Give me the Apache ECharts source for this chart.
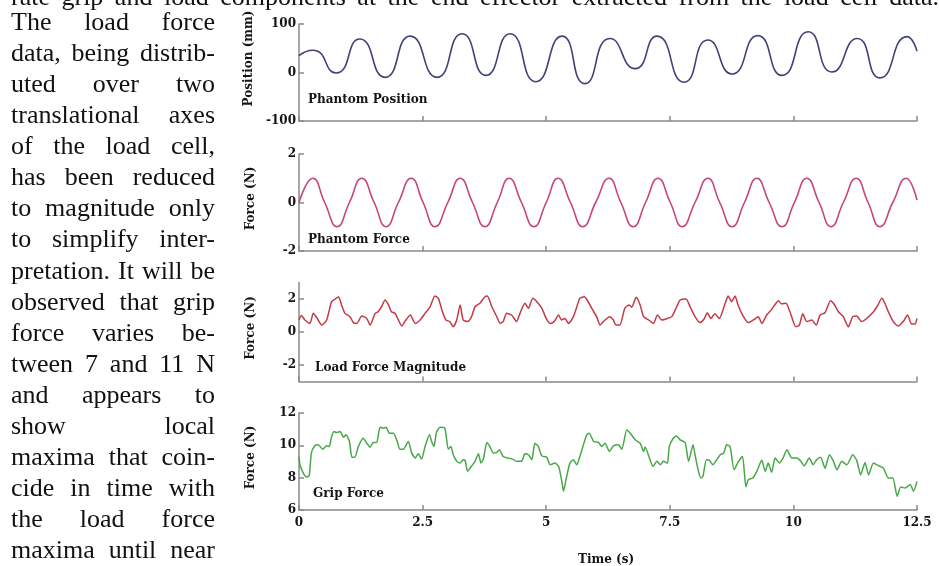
<!DOCTYPE html>
<html>
<head>
<meta charset="utf-8">
<script src="https://cdn.jsdelivr.net/npm/echarts@6/dist/echarts.min.js"></script>
<style>
  html, body { margin: 0; padding: 0; background: #fff; overflow: hidden; }
  #chart { position: absolute; left: 0; top: 0; width: 939px; height: 566px; }
  .txt {
    position: absolute; left: 11px; width: 204px;
    font-family: "Liberation Serif", "DejaVu Serif", serif;
    font-size: 26px; line-height: 31.1px; color: #111;
    text-align: justify; text-align-last: justify; white-space: nowrap;
  }
  #topline { position: absolute; left: 11px; top: -19px; width: 928px;
    font-family: "Liberation Serif", serif; font-size: 26px; line-height: 31.1px;
    color: #111; text-align: justify; text-align-last: justify; white-space: nowrap; }
</style>
</head>
<body>
<div id="chart"></div>
<div id="topline">rate grip and load components at the end effector extracted from the load cell data.</div>
<div id="para"></div>
<script>
// text column beside the figure
const paraLines = [
  'The load force', 'data, being distrib-', 'uted over two', 'translational axes',
  'of the load cell,', 'has been reduced', 'to magnitude only', 'to simplify inter-',
  'pretation. It will be', 'observed that grip', 'force varies be-', 'tween 7 and 11 N',
  'and appears to', 'show local', 'maxima that coin-', 'cide in time with',
  'the load force', 'maxima until near'
]

// Phantom Position (mm), extrema
const posT = [0, 0.28, 0.75, 1.23, 1.74, 2.25, 2.79, 3.30, 3.78, 4.27, 4.79, 5.32, 5.78,
  6.29, 6.80, 7.24, 7.79, 8.27, 8.76, 9.28, 9.77, 10.30, 10.78, 11.29, 11.75, 12.30, 12.5]
const posV = [35, 46, -1, 69, -10, 75, -10, 80, -6, 80, -19, 75, -23,
  70, 8, 75, -20, 67, -3, 76, -6, 84, 1, 70, -11, 74, 44]

// Phantom Force (N)
const pfT = [0, 0.28, 0.52, 0.77, 1.02, 1.27, 1.52, 1.76, 2.01, 2.27, 2.51, 2.75, 3.01,
  3.26, 3.51, 3.76, 4.01, 4.25, 4.50, 4.75, 5.00, 5.24, 5.49, 5.74, 6.00, 6.27, 6.51,
  6.76, 7.01, 7.26, 7.51, 7.75, 8.01, 8.27, 8.51, 8.76, 9.01, 9.26, 9.51, 9.77, 10.02,
  10.27, 10.52, 10.76, 11.01, 11.27, 11.51, 11.75, 12.01, 12.28, 12.5]
const pfV = [0, 1, 0, -1, 0, 1, 0, -1, 0, 1, 0, -1, 0,
  1, 0, -1, 0, 1, 0, -1, 0, 1, 0, -1, 0, 1, 0,
  -1, 0, 1, 0, -1, 0, 1, 0, -1, 0, 1, 0, -1, 0,
  1, 0, -1, 0, 1, 0, -1, 0, 1, 0.1]

// Load Force Magnitude (N)
const lfT = [0, 0.05, 0.12, 0.22, 0.29, 0.37, 0.46, 0.56, 0.66, 0.75, 0.80, 0.86, 0.93,
  1.03, 1.10, 1.17, 1.27, 1.37, 1.44, 1.54, 1.60, 1.67, 1.74, 1.81, 1.87, 1.94, 2.01,
  2.08, 2.14, 2.25, 2.35, 2.45, 2.55, 2.65, 2.75, 2.82, 2.89, 2.97, 3.05, 3.12, 3.19,
  3.26, 3.32, 3.41, 3.49, 3.56, 3.66, 3.76, 3.81, 3.90, 4.00, 4.07, 4.13, 4.20, 4.30,
  4.40, 4.47, 4.57, 4.64, 4.73, 4.81, 4.91, 5.00, 5.08, 5.16, 5.25, 5.31, 5.38, 5.45,
  5.55, 5.62, 5.68, 5.77, 5.83, 5.92, 6.02, 6.09, 6.17, 6.28, 6.36, 6.41, 6.49, 6.59,
  6.68, 6.73, 6.82, 6.90, 6.97, 7.07, 7.17, 7.25, 7.34, 7.45, 7.54, 7.64, 7.71, 7.83,
  7.91, 8.01, 8.11, 8.19, 8.26, 8.33, 8.41, 8.50, 8.62, 8.68, 8.75, 8.82, 8.88, 8.99,
  9.09, 9.19, 9.29, 9.36, 9.46, 9.56, 9.70, 9.76, 9.85, 9.93, 10.05, 10.12, 10.19,
  10.27, 10.37, 10.46, 10.54, 10.64, 10.75, 10.82, 10.91, 11.01, 11.11, 11.20, 11.28,
  11.38, 11.48, 11.62, 11.69, 11.79, 11.85, 11.92, 12.02, 12.12, 12.22, 12.31, 12.39,
  12.46, 12.5]
const lfV = [0.73, 1.00, 0.73, 0.52, 1.13, 0.82, 0.42, 0.73, 1.84, 2.04, 2.14, 1.64, 1.13,
  0.93, 0.57, 0.52, 0.97, 0.82, 0.42, 1.13, 1.23, 1.53, 1.94, 1.64, 1.23, 1.13, 0.73,
  0.36, 0.63, 1.03, 0.52, 0.73, 1.13, 1.53, 2.18, 2.04, 1.33, 0.73, 0.63, 0.32, 0.73,
  1.64, 0.73, 0.63, 0.93, 1.53, 1.74, 2.14, 2.18, 1.53, 0.93, 0.52, 0.63, 1.13, 1.03,
  0.63, 1.13, 1.74, 1.44, 2.04, 1.84, 1.44, 0.82, 0.52, 0.63, 1.03, 0.73, 0.82, 0.52,
  0.93, 1.53, 2.04, 2.14, 1.94, 1.44, 0.93, 0.42, 0.67, 0.93, 0.73, 0.42, 0.42, 1.44,
  1.64, 1.50, 2.10, 1.64, 0.93, 0.73, 0.52, 1.03, 0.73, 0.82, 0.93, 1.53, 1.94, 2.00,
  1.53, 0.93, 0.57, 0.77, 1.17, 0.82, 1.10, 0.82, 1.74, 2.18, 1.84, 2.18, 1.64, 0.93,
  0.57, 0.73, 0.93, 0.52, 1.03, 1.37, 1.90, 1.70, 1.74, 1.23, 0.32, 0.42, 1.10,
  0.63, 0.73, 0.42, 1.03, 1.17, 1.90, 1.70, 1.23, 0.93, 0.32, 0.93, 0.97,
  0.63, 0.82, 1.23, 1.53, 2.04, 1.74, 1.23, 0.63, 0.36, 0.63, 1.03, 0.48,
  0.48, 0.82]

// Grip Force (N)
const gfT = [0, 0.02, 0.07, 0.12, 0.17, 0.21, 0.25, 0.32, 0.39, 0.48, 0.56, 0.61, 0.66,
  0.71, 0.76, 0.83, 0.90, 0.95, 1.02, 1.07, 1.13, 1.20, 1.30, 1.37, 1.44, 1.50, 1.57,
  1.64, 1.71, 1.76, 1.83, 1.91, 1.98, 2.04, 2.11, 2.21, 2.28, 2.35, 2.41, 2.48, 2.55,
  2.64, 2.69, 2.73, 2.78, 2.85, 2.95, 3.02, 3.07, 3.12, 3.19, 3.26, 3.32, 3.36, 3.41,
  3.46, 3.56, 3.63, 3.68, 3.73, 3.80, 3.86, 3.93, 4.00, 4.05, 4.13, 4.23, 4.32, 4.40,
  4.50, 4.57, 4.64, 4.71, 4.77, 4.84, 4.91, 5.01, 5.08, 5.18, 5.25, 5.31, 5.35, 5.40,
  5.48, 5.55, 5.62, 5.68, 5.82, 5.87, 5.96, 6.06, 6.12, 6.19, 6.28, 6.36, 6.46, 6.53,
  6.63, 6.70, 6.80, 6.90, 6.97, 7.00, 7.10, 7.16, 7.24, 7.31, 7.37, 7.45, 7.49, 7.57,
  7.64, 7.71, 7.81, 7.88, 7.97, 8.01, 8.08, 8.13, 8.17, 8.24, 8.30, 8.37, 8.45, 8.52,
  8.59, 8.65, 8.72, 8.80, 8.89, 8.97, 9.04, 9.09, 9.18, 9.26, 9.36, 9.43, 9.49, 9.56,
  9.63, 9.72, 9.79, 9.87, 9.97, 10.07, 10.15, 10.22, 10.32, 10.40, 10.47, 10.55, 10.64,
  10.73, 10.81, 10.88, 10.98, 11.08, 11.20, 11.28, 11.36, 11.45, 11.52, 11.62, 11.72,
  11.82, 11.92, 12.01, 12.10, 12.17, 12.26, 12.36, 12.43, 12.5]
const gfV = [9.31, 8.80, 8.39, 8.12, 8.04, 8.18, 9.52, 9.97, 10.03, 9.76, 9.97, 9.93, 10.54,
  10.85, 10.79, 10.85, 10.50, 10.65, 10.24, 9.27, 9.27, 9.93, 10.44, 10.13, 9.89, 10.17, 10.17,
  11.12, 11.06, 11.12, 10.75, 10.75, 10.30, 9.76, 9.76, 10.24, 9.52, 9.21, 9.48, 9.15, 9.93,
  10.65, 10.17, 9.93, 10.79, 11.12, 11.06, 9.76, 9.93, 9.42, 9.01, 8.90, 9.11, 9.07, 8.39,
  8.59, 9.01, 9.48, 8.90, 9.15, 10.17, 9.93, 9.52, 9.56, 9.72, 9.31, 9.21, 9.15, 9.01,
  9.01, 9.48, 9.42, 9.11, 10.13, 9.93, 9.35, 9.27, 8.80, 8.90, 8.70, 7.88, 7.16, 7.88,
  8.90, 9.11, 8.80, 9.31, 10.65, 10.75, 10.24, 10.17, 9.93, 10.13, 9.62, 9.97, 10.03, 9.76,
  10.95, 10.75, 10.34, 10.13, 9.62, 9.89, 9.11, 8.70, 9.01, 8.80, 9.01, 8.90, 9.93, 10.44,
  10.58, 10.34, 10.17, 9.01, 10.03, 9.42, 8.39, 7.98, 8.08, 9.11, 9.07, 8.80, 9.11, 9.42,
  9.52, 10.03, 9.93, 8.49, 9.01, 9.31, 7.43, 7.88, 7.98, 8.39, 9.07, 8.39, 8.90, 8.33,
  9.21, 8.90, 9.21, 9.72, 9.21, 9.21, 9.01, 8.74, 9.21, 8.80, 9.11, 9.27, 8.59,
  9.42, 9.01, 8.49, 9.01, 8.80, 9.42, 9.07, 8.18, 8.94, 8.18, 8.90, 8.74,
  8.59, 7.98, 7.98, 6.85, 7.43, 7.36, 7.57, 7.16, 7.77]

const xTicks = { min: 0, max: 12.5, interval: 2.5 }
const labelFont = { fontFamily: 'DejaVu Serif', fontWeight: 'bold', fontSize: 12, color: '#151515' }

const para = document.getElementById('para')
paraLines.forEach(function (line, i) {
  let d = document.createElement('div')
  d.className = 'txt'
  d.style.top = (5.7 + i * 31.1) + 'px'
  d.textContent = line
  para.appendChild(d)
})

function pairs (ts, vs) {
  return ts.map(function (t, i) { return [t, vs[i]] })
}

const axisGrey = { color: '#8a8a8a', width: 1.5 }
const grids = [
  { left: 299, right: 22, top: 24, height: 97 },
  { left: 299, right: 22, top: 154, height: 97 },
  { left: 299, right: 22, top: 282.5, height: 99 },
  { left: 299, right: 22, top: 413, height: 97 }
]

let xAxes = grids.map(function (g, i) {
  return {
    type: 'value', gridIndex: i, min: xTicks.min, max: xTicks.max, interval: xTicks.interval,
    splitLine: { show: false },
    axisLine: { onZero: false, lineStyle: axisGrey },
    axisTick: { inside: true, length: 5, lineStyle: axisGrey },
    axisLabel: Object.assign({ show: i === 3, margin: 7 }, labelFont)
  }
})

function yAxis (i, min, max, interval, name, shift, extra) {
  let ax = {
    type: 'value', gridIndex: i, min: min, max: max, interval: interval,
    name: name, nameLocation: 'middle', nameGap: 42,
    nameTextStyle: Object.assign({ padding: [0, 0, 0, shift * 2] }, labelFont),
    splitLine: { show: false },
    axisLine: { show: true, onZero: false, lineStyle: axisGrey },
    axisTick: { show: true, inside: true, length: 5, lineStyle: axisGrey },
    axisLabel: Object.assign({ margin: 3 }, labelFont)
  }
  if (extra) {
    ax.axisLabel.customValues = extra
    ax.axisTick.customValues = extra
  }
  return ax
}

let yAxes = [
  yAxis(0, -100, 100, 100, 'Position (mm)', 14),
  yAxis(1, -2, 2, 2, 'Force (N)', 4),
  yAxis(2, -3, 3, 1, 'Force (N)', 4, [-2, 0, 2]),
  yAxis(3, 6, 12, 2, 'Force (N)', 4)
]

function panelTitle (text, left, top) {
  return { text: text, left: left, top: top, padding: 0, textStyle: Object.assign({}, labelFont) }
}

let option = {
  animation: false,
  backgroundColor: '#fff',
  title: [
    panelTitle('Phantom Position', 308, 94),
    panelTitle('Phantom Force', 308, 234),
    panelTitle('Load Force Magnitude', 315, 362),
    panelTitle('Grip Force', 313, 488),
    panelTitle('Time (s)', 578, 554)
  ],
  grid: grids,
  xAxis: xAxes,
  yAxis: yAxes,
  series: [
    { type: 'line', xAxisIndex: 0, yAxisIndex: 0, data: pairs(posT, posV), smooth: 0.6,
      showSymbol: false, lineStyle: { color: '#3f4178', width: 1.6 } },
    { type: 'line', xAxisIndex: 1, yAxisIndex: 1, data: pairs(pfT, pfV), smooth: 0.5,
      showSymbol: false, lineStyle: { color: '#c8447e', width: 1.6 } },
    { type: 'line', xAxisIndex: 2, yAxisIndex: 2, data: pairs(lfT, lfV), smooth: 0.2,
      showSymbol: false, lineStyle: { color: '#c43a46', width: 1.5 } },
    { type: 'line', xAxisIndex: 3, yAxisIndex: 3, data: pairs(gfT, gfV), smooth: 0.2,
      showSymbol: false, lineStyle: { color: '#48a848', width: 1.5 } }
  ]
}

let chart = echarts.init(document.getElementById('chart'))
chart.setOption(option)
</script>
</body>
</html>
